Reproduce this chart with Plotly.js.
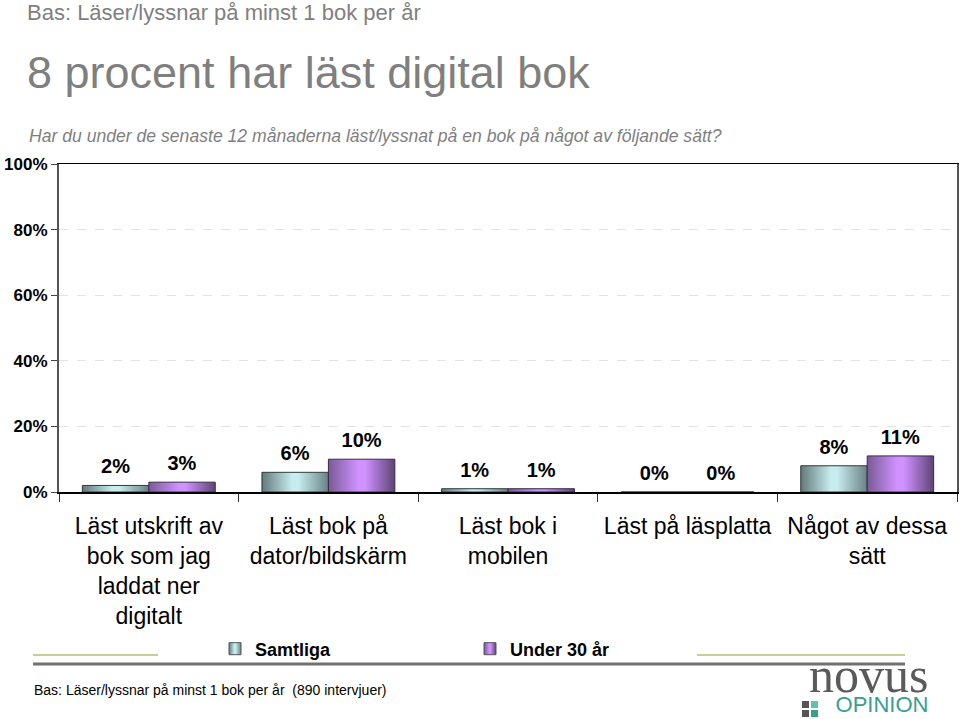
<!DOCTYPE html>
<html><head><meta charset="utf-8">
<script src="https://cdn.plot.ly/plotly-3.0.1.min.js"></script>
<style>body{margin:0;background:#fff}#chart{width:960px;height:719px}</style>
</head><body><div id="chart"></div>
<script>
const categories = [
  "Läst utskrift av<br>bok som jag<br>laddat ner<br>digitalt",
  "Läst bok på<br>dator/bildskärm",
  "Läst bok i<br>mobilen",
  "Läst på läsplatta",
  "Något av dessa<br>sätt"
];
const samtliga = [2, 6, 1, 0, 8];
const under30 = [3, 10, 1, 0, 11];
const seriesNames = ["Samtliga", "Under 30 år"];
const yTicks = [0, 20, 40, 60, 80, 100];

const L = 59, R = 957, T = 164, B = 492;
const px = x => (x - L) / (R - L);
const py = y => (B - y) / (B - T);
const sans = "Liberation Sans, Arial, sans-serif";

const barText = {family: sans, size: 20, color: "#000", weight: "bold"};
const traces = [
  {type: "bar", name: seriesNames[0], x: categories, y: samtliga,
   text: samtliga.map(v => v + "%"), textposition: "outside", textfont: barText, cliponaxis: false,
   marker: {color: "#9fc4c6", line: {color: "#2e3a3a", width: 1}}, hoverinfo: "none"},
  {type: "bar", name: seriesNames[1], x: categories, y: under30,
   text: under30.map(v => v + "%"), textposition: "outside", textfont: barText, cliponaxis: false,
   marker: {color: "#a878d8", line: {color: "#3a2a48", width: 1}}, hoverinfo: "none"}
];

const gray = "#7f7f7f";
const sh = (o) => Object.assign({xref: "paper", yref: "paper", xsizemode: "pixel", ysizemode: "pixel", xanchor: 0, yanchor: 0}, o);
const layout = {
  width: 960, height: 719,
  margin: {l: L, r: 960 - R, t: T, b: 719 - B},
  paper_bgcolor: "#fff", plot_bgcolor: "#fff",
  barmode: "group", bargap: 0.26, bargroupgap: 0,
  showlegend: true,
  legend: {orientation: "h", x: px(215), xanchor: "left", y: py(649), yanchor: "middle",
           bgcolor: "rgba(0,0,0,0)",
           font: {family: sans, size: 18, color: "#000", weight: "bold"},
           entrywidth: 210, entrywidthmode: "pixels", itemclick: false, traceorder: "normal"},
  xaxis: {type: "category", tickson: "boundaries", ticks: "outside", ticklen: 8, tickcolor: "#333",
          showline: true, linecolor: "#000", linewidth: 1.5, mirror: true,
          tickfont: {family: sans, size: 23, color: "#000"}, ticklabelstandoff: 13,
          showgrid: false, fixedrange: true},
  yaxis: {range: [0, 100], tickvals: yTicks, ticktext: yTicks.map(v => v + "%"),
          ticks: "outside", ticklen: 6, tickcolor: "#444",
          showline: true, linecolor: "#555", linewidth: 2, mirror: true,
          tickfont: {family: sans, size: 17, color: "#000", weight: "bold"},
          showgrid: true, gridcolor: "#e2e2e2", griddash: "dash", zeroline: false, fixedrange: true},
  title: {text: "8 procent har läst digital bok", x: 27 / 960, xanchor: "left", xref: "container",
          y: 1 - 72 / 719, yanchor: "middle", yref: "container",
          font: {family: sans, size: 45, color: gray}},
  annotations: [
    {text: "Bas: Läser/lyssnar på minst 1 bok per år", xref: "paper", yref: "paper",
     x: px(25), y: py(12), xanchor: "left", yanchor: "middle", showarrow: false,
     font: {family: sans, size: 22, color: gray}},
    {text: "<i>Har du under de senaste 12 månaderna läst/lyssnat på en bok på något av följande sätt?</i>",
     xref: "paper", yref: "paper", x: px(27), y: py(136), xanchor: "left", yanchor: "middle",
     showarrow: false, font: {family: sans, size: 17.6, color: gray}},
    {text: "Bas: Läser/lyssnar på minst 1 bok per år  (890 intervjuer)", xref: "paper", yref: "paper",
     x: px(32), y: py(690), xanchor: "left", yanchor: "middle", showarrow: false,
     font: {family: sans, size: 14, color: "#000"}},
    {text: "<span style='font-family:Liberation Serif, DejaVu Serif, serif;font-size:50px;color:#5a5a5a'>novus</span><br>" +
          "<span style='font-size:22px;color:#3a9e8e'>OPINION</span>",
     xref: "paper", yref: "paper", x: px(930), y: py(719), xanchor: "right", yanchor: "bottom",
     align: "right", showarrow: false, font: {family: sans, size: 15.5, color: "#3a9e8e"}}
  ],
  shapes: [
    sh({type: "line", x0: 33 - L, x1: 158 - L, y0: B - 655, y1: B - 655, line: {color: "#c8cf8e", width: 2}}),
    sh({type: "line", x0: 697 - L, x1: 905 - L, y0: B - 655, y1: B - 655, line: {color: "#c8cf8e", width: 2}}),
    sh({type: "line", x0: 33 - L, x1: 905 - L, y0: B - 664, y1: B - 664, line: {color: "#707070", width: 3}}),
    sh({type: "rect", x0: 802 - L, x1: 809 - L, y0: B - 701, y1: B - 708, fillcolor: "#555", line: {width: 0}}),
    sh({type: "rect", x0: 811 - L, x1: 818 - L, y0: B - 701, y1: B - 708, fillcolor: "#5cc3b3", line: {width: 0}}),
    sh({type: "rect", x0: 802 - L, x1: 809 - L, y0: B - 710, y1: B - 717, fillcolor: "#555", line: {width: 0}}),
    sh({type: "rect", x0: 811 - L, x1: 818 - L, y0: B - 710, y1: B - 717, fillcolor: "#3a9e8e", line: {width: 0}})
  ]
};

const gd = document.getElementById("chart");
Plotly.newPlot(gd, traces, layout, {staticPlot: true, displayModeBar: false}).then(() => {
  const NS = "http://www.w3.org/2000/svg";
  const svg = gd.querySelector("svg.main-svg");
  const defs = document.createElementNS(NS, "defs");
  const mk = (id, stops) => {
    const g = document.createElementNS(NS, "linearGradient");
    g.setAttribute("id", id); g.setAttribute("x1", "0"); g.setAttribute("x2", "1");
    g.setAttribute("y1", "0"); g.setAttribute("y2", "0");
    stops.forEach(([o, c]) => {
      const s = document.createElementNS(NS, "stop");
      s.setAttribute("offset", o); s.setAttribute("stop-color", c); g.appendChild(s);
    });
    defs.appendChild(g);
  };
  mk("gTeal", [[0, "#62797a"], [0.45, "#c6ecee"], [0.55, "#c6ecee"], [1, "#6a8284"]]);
  mk("gPurp", [[0, "#7a5a96"], [0.45, "#cf92ff"], [0.55, "#cf92ff"], [1, "#5e4474"]]);
  svg.insertBefore(defs, svg.firstChild);
  const ids = ["gTeal", "gPurp"];
  gd.querySelectorAll(".barlayer .trace").forEach((t, i) => {
    t.querySelectorAll(".point path").forEach(p => { p.style.fill = "url(#" + ids[i] + ")"; });
    t.querySelectorAll(".point text").forEach(tx => {
      const tr = tx.getAttribute("transform") || "";
      tx.setAttribute("transform", "translate(0,-5) " + tr);
    });
  });
  gd.querySelectorAll(".legend .traces").forEach((t, i) => {
    t.querySelectorAll(".legendpoints path").forEach(p => {
      p.style.fill = "url(#" + ids[i] + ")"; p.style.stroke = "#555";
    });
  });
});
</script></body></html>
